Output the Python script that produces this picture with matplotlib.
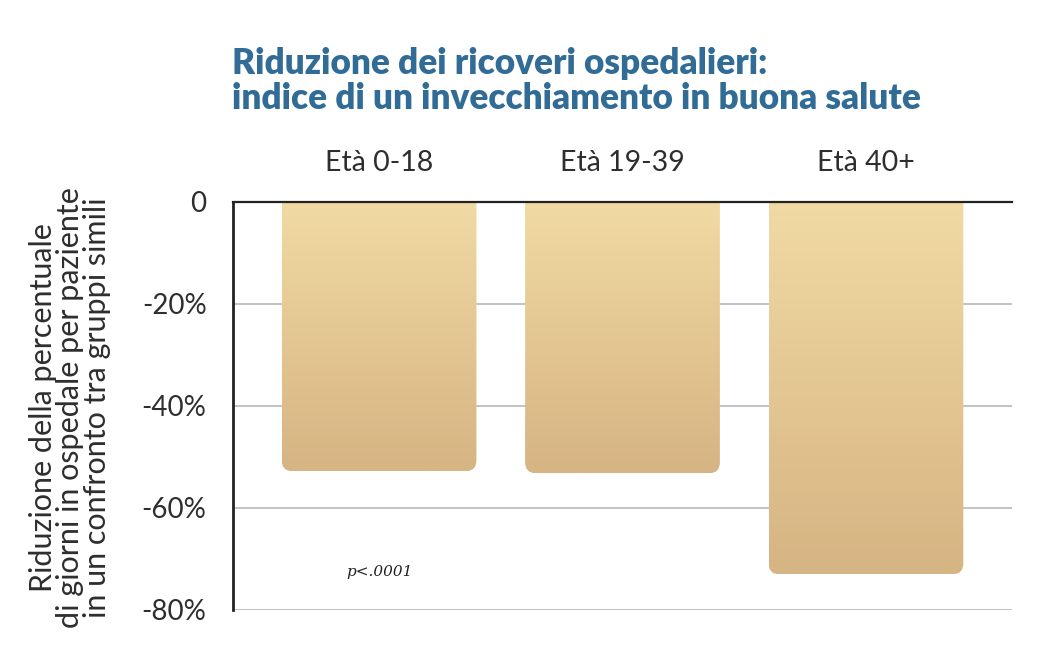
import numpy as np
import matplotlib
matplotlib.use("Agg")
import matplotlib.pyplot as plt
from matplotlib.patches import FancyBboxPatch
from matplotlib.colors import LinearSegmentedColormap

categories = ["Età 0-18", "Età 19-39", "Età 40+"]
values = [-52.8, -53.2, -73.0]
yticks = [0, -20, -40, -60, -80]
ytick_labels = ["0", "-20%", "-40%", "-60%", "-80%"]
title = "Riduzione dei ricoveri ospedalieri:\nindice di un invecchiamento in buona salute"
ylabel = "Riduzione della percentuale\ndi giorni in ospedale per paziente\nin un confronto tra gruppi simili"
note = "p<.0001"

plt.rcParams['font.family'] = ['Lato', 'DejaVu Sans']

W, H = 1053, 648
fig = plt.figure(figsize=(W / 100, H / 100), dpi=100)
ax = fig.add_axes([233 / W, 1 - 610 / H, (1012 - 233) / W, (610 - 202) / H])

ax.set_xlim(-0.6, 2.6)
ax.set_ylim(-80, 0)

# gridlines
for t in yticks[1:]:
    ax.axhline(t, color="#bdbdbd", lw=1.3, zorder=1)

cmap = LinearSegmentedColormap.from_list("g", ["#d6b483", "#f1daa3"])
grad = np.linspace(0, 1, 256).reshape(-1, 1)
bw = 0.8
px_x = 243.5
px_y = 408 / 80
aspect = px_x / px_y
for i, v in enumerate(values):
    x0 = i - bw / 2
    patch = FancyBboxPatch((x0, v), bw, -v + 10,
                           boxstyle="round,pad=0,rounding_size=0.045",
                           mutation_aspect=aspect,
                           facecolor="none", edgecolor="none", zorder=2)
    ax.add_patch(patch)
    im = ax.imshow(grad, cmap=cmap, aspect="auto", origin="lower",
                   extent=(x0, x0 + bw, v, 0), zorder=2)
    im.set_clip_path(patch)

ax.set_xlim(-0.6, 2.6)
ax.set_ylim(-80, 0.0)

for s in ["right", "bottom"]:
    ax.spines[s].set_visible(False)
ax.spines["left"].set_color("#222222")
ax.spines["left"].set_linewidth(2)
ax.spines["top"].set_color("#222222")
ax.spines["top"].set_linewidth(1.6)
ax.spines["top"].set_zorder(5)

ax.set_yticks(yticks)
ax.set_yticklabels(ytick_labels, fontsize=20, color="#2e2e2e")
ax.tick_params(axis="y", length=0, pad=19)
ax.set_xticks(range(len(categories)))
ax.set_xticklabels(categories, fontsize=20.5, color="#2e2e2e")
ax.xaxis.tick_top()
ax.tick_params(axis="x", length=0, pad=19)

fig.text(232 / W, 1 - 47 / H, title, fontsize=25.3, fontweight="heavy",
         color="#316c97", ha="left", va="top", linespacing=1.08)

fig.text(70 / W, 1 - 408 / H, ylabel, rotation=90, fontsize=22,
         color="#2e2e2e", ha="center", va="center", linespacing=0.95)

ax.text(0, -72.5, note, fontsize=11, style="italic", family="DejaVu Serif",
        color="#222222", ha="center", va="center")

fig.savefig("out.png", dpi=100)
